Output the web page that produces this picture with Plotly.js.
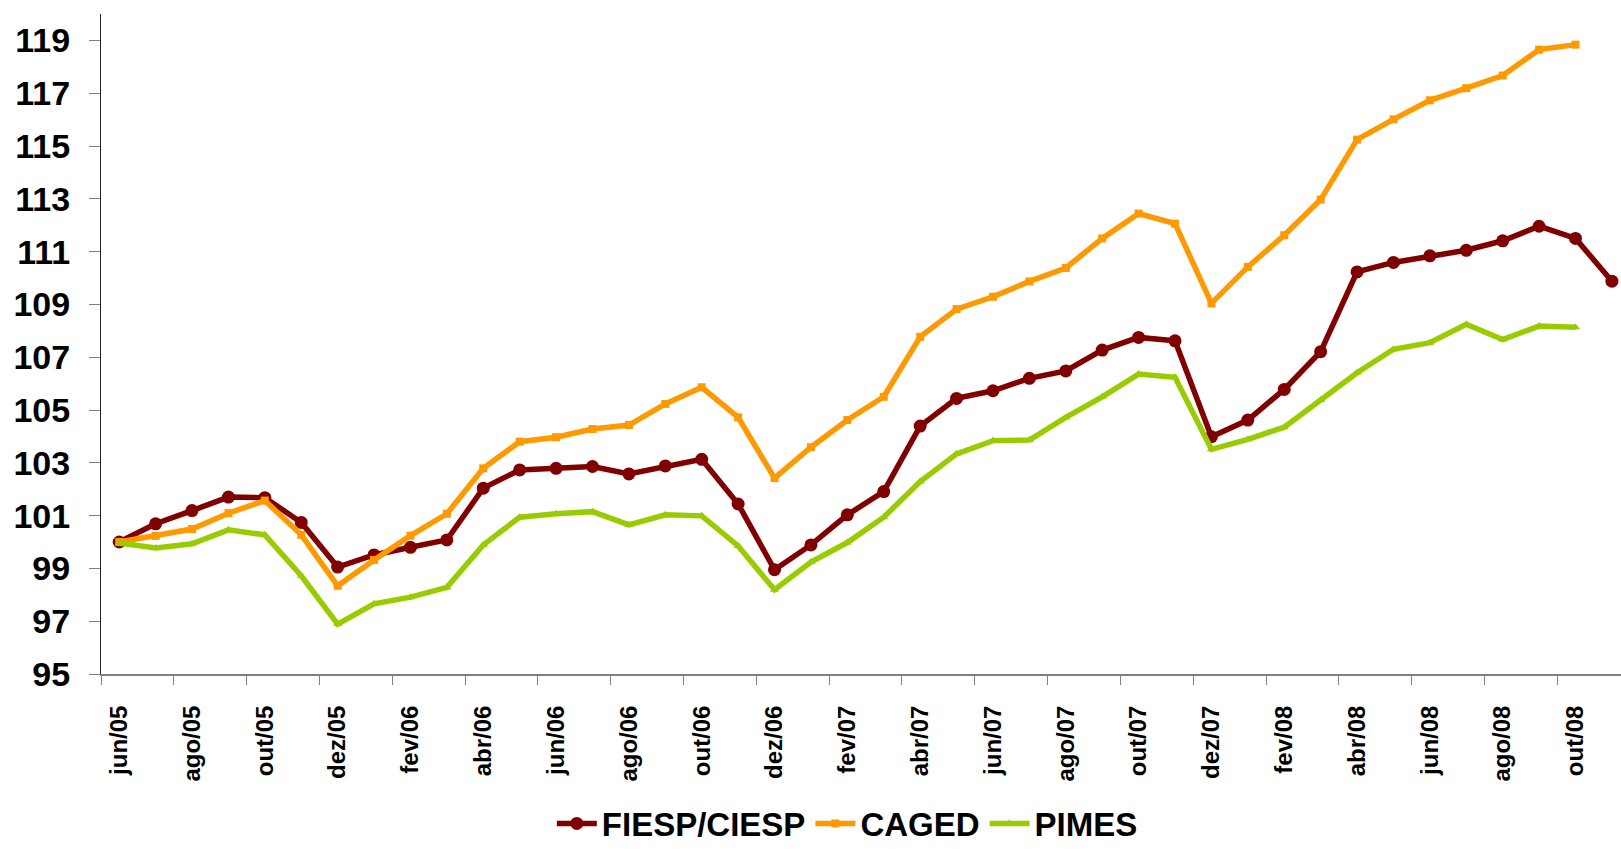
<!DOCTYPE html>
<html>
<head>
<meta charset="utf-8">
<script src="https://cdn.plot.ly/plotly-3.0.1.min.js"></script>
<style>
  html, body { margin: 0; padding: 0; background: #ffffff; }
  #chart { width: 1621px; height: 849px; }
</style>
</head>
<body>
<div id="chart"></div>
<script>
const months = [
  "jun/05","jul/05","ago/05","set/05","out/05","nov/05","dez/05",
  "jan/06","fev/06","mar/06","abr/06","mai/06","jun/06","jul/06","ago/06","set/06","out/06","nov/06","dez/06",
  "jan/07","fev/07","mar/07","abr/07","mai/07","jun/07","jul/07","ago/07","set/07","out/07","nov/07","dez/07",
  "jan/08","fev/08","mar/08","abr/08","mai/08","jun/08","jul/08","ago/08","set/08","out/08","nov/08"
];

const fiesp = [
  100.0, 100.69, 101.19, 101.70, 101.68, 100.74, 99.05,
  99.51, 99.80, 100.08, 102.04, 102.73, 102.79, 102.86, 102.58, 102.88, 103.13, 101.44, 98.95,
  99.89, 101.03, 101.91, 104.39, 105.44, 105.73, 106.20, 106.48, 107.27, 107.75, 107.62, 103.99,
  104.62, 105.78, 107.21, 110.23, 110.59, 110.84, 111.05, 111.41, 111.96, 111.50, 109.88
];

const caged = [
  100.0, 100.23, 100.49, 101.09, 101.57, 100.27, 98.34,
  99.32, 100.24, 101.07, 102.79, 103.80, 103.97, 104.28, 104.43, 105.23, 105.86, 104.72, 102.42,
  103.59, 104.62, 105.50, 107.77, 108.82, 109.29, 109.87, 110.38, 111.50, 112.44, 112.06, 109.04,
  110.42, 111.62, 112.97, 115.24, 116.01, 116.73, 117.19, 117.67, 118.65, 118.84
];

const pimes = [
  99.96, 99.77, 99.93, 100.46, 100.27, 98.72, 96.89,
  97.66, 97.91, 98.28, 99.89, 100.94, 101.07, 101.15, 100.65, 101.03, 100.99, 99.85, 98.19,
  99.24, 99.98, 100.94, 102.29, 103.34, 103.84, 103.86, 104.72, 105.50, 106.36, 106.24, 103.51,
  103.89, 104.35, 105.38, 106.41, 107.30, 107.55, 108.25, 107.67, 108.18, 108.13
];

const seriesNames = ["FIESP/CIESP", "CAGED", "PIMES"];
const seriesColors = ["#800000", "#FF9900", "#99CC00"];

const font = "'Liberation Sans', Arial, 'DejaVu Sans', sans-serif";

const traces = [
  {
    x: months.slice(0, fiesp.length), y: fiesp, name: seriesNames[0],
    type: "scatter", mode: "lines+markers",
    line: { color: seriesColors[0], width: 5.5 },
    marker: { symbol: "circle", size: 13, color: seriesColors[0] }
  },
  {
    x: months.slice(0, caged.length), y: caged, name: seriesNames[1],
    type: "scatter", mode: "lines+markers",
    line: { color: seriesColors[1], width: 5.5 },
    marker: { symbol: "square", size: 8, color: seriesColors[1] }
  },
  {
    x: months.slice(0, pimes.length), y: pimes, name: seriesNames[2],
    type: "scatter", mode: "lines+markers",
    line: { color: seriesColors[2], width: 5.5 },
    marker: { symbol: "triangle-up", size: 8, color: seriesColors[2] }
  }
];

const layout = {
  width: 1621, height: 849,
  paper_bgcolor: "#ffffff", plot_bgcolor: "#ffffff",
  margin: { l: 101, r: 0, t: 14, b: 175, autoexpand: false },
  showlegend: true,
  legend: {
    orientation: "h", x: 0.491, xref: "paper", xanchor: "center",
    y: -0.2265, yanchor: "middle",
    font: { family: font, size: 33, color: "#000000", weight: "bold" },
    itemwidth: 40, tracegroupgap: 0
  },
  xaxis: {
    type: "category",
    categoryorder: "array", categoryarray: months,
    range: [-0.5, 41.25],
    tickmode: "linear", tick0: 0, dtick: 2,
    tickson: "boundaries",
    ticks: "outside", ticklen: 9, tickwidth: 1, tickcolor: "#808080",
    tickangle: -90,
    ticklabelstandoff: 20,
    tickfont: { family: font, size: 24, color: "#000000", weight: "bold" },
    showline: true, linecolor: "#808080", linewidth: 2,
    showgrid: false, zeroline: false, fixedrange: true,
    automargin: false
  },
  yaxis: {
    range: [95, 120],
    tickmode: "linear", tick0: 95, dtick: 2,
    ticks: "outside", ticklen: 11, tickwidth: 1, tickcolor: "#808080",
    ticklabelstandoff: 12,
    tickfont: { family: font, size: 34, color: "#000000", weight: "bold" },
    showline: true, linecolor: "#202020", linewidth: 1,
    showgrid: false, zeroline: false, fixedrange: true,
    automargin: false
  }
};

Plotly.newPlot("chart", traces, layout, { displayModeBar: false, staticPlot: true });
</script>
</body>
</html>
